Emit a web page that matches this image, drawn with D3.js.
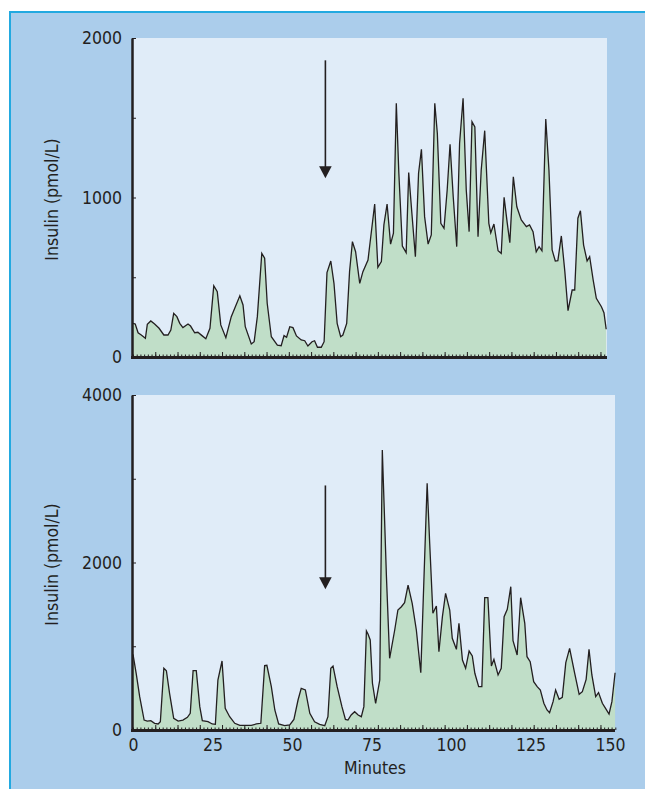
<!DOCTYPE html>
<meta charset="utf-8">
<style>
  body { margin: 0; background: #fff; }
  text { font-family: "DejaVu Sans Condensed", "Liberation Sans Narrow", "DejaVu Sans", sans-serif; fill: #231f20; }
</style>
<script src="https://d3js.org/d3.v7.min.js"></script>

<div id="chart"></div>

<script>

// ---- data (minutes, insulin pmol/L) ----
var topMinutes = [0, 0.7, 1.6, 2.6, 3.9, 4.5, 5.6, 6.8, 8.2, 9.7, 11.0, 11.9, 12.8, 13.8, 14.7, 15.7, 17.3, 18.1, 19.4, 20.4,
  21.7, 22.9, 24.2, 25.4, 26.5, 27.6, 29.2, 30.9, 33.6, 34.6, 35.3, 37.2, 38.1, 39.1, 40.5, 41.4, 42.2, 43.5, 45.4, 46.6,
  47.5, 48.3, 49.3, 50.3, 51.4, 52.9, 54.0, 55.0, 56.3, 57.1, 58.0, 59.2, 60.1, 61.0, 62.2, 63.2, 64.2, 65.3, 66.0, 67.2,
  68.1, 69.0, 70.0, 71.3, 72.3, 73.9, 76.0, 77.0, 78.1, 78.9, 79.9, 81.0, 81.9, 82.8, 83.6, 84.7, 85.9, 86.7, 87.7, 88.8,
  89.8, 90.7, 91.7, 92.8, 93.8, 94.9, 95.7, 96.8, 97.8, 98.8, 99.7, 100.7, 101.8, 102.7, 103.8, 104.8, 105.7, 106.6, 107.5, 108.5,
  109.5, 110.6, 111.9, 112.5, 113.5, 114.8, 115.8, 116.7, 117.7, 118.5, 119.6, 120.7, 122.1, 123.7, 124.7, 125.8, 126.8, 127.7, 128.6, 129.8,
  130.8, 131.8, 132.8, 133.6, 134.7, 135.8, 136.8, 138.1, 138.9, 139.9, 140.7, 141.7, 142.8, 143.6, 144.7, 145.7, 147.3, 148.1, 148.8]
var topInsulin = [211, 207, 152, 138, 117, 205, 226, 207, 180, 138, 138, 169, 274, 253, 211, 184, 207, 194, 152, 155,
  134, 115, 180, 447, 410, 201, 121, 253, 384, 326, 190, 82, 96, 253, 650, 619, 337, 127, 75, 71,
  134, 124, 190, 184, 132, 107, 102, 69, 96, 102, 61, 61, 96, 529, 602, 462, 211, 127, 138, 211,
  535, 723, 660, 462, 535, 608, 959, 562, 598, 828, 959, 708, 776, 1591, 1152, 696, 654, 1156, 901, 629,
  1152, 1302, 880, 708, 765, 1591, 1403, 838, 807, 1047, 1334, 1005, 692, 1340, 1622, 1047, 786, 1475, 1443, 754,
  1172, 1419, 838, 779, 834, 666, 650, 1001, 838, 717, 1130, 942, 859, 817, 828, 786, 660, 692, 666, 1492,
  1172, 671, 602, 604, 759, 535, 290, 420, 420, 870, 917, 702, 602, 629, 483, 368, 315, 278, 174]

var bottomMinutes = [0, 1.0, 2.1, 3.5, 4.5, 5.6, 6.8, 7.9, 8.6, 9.7, 10.5, 11.5, 12.8, 14.2, 15.7, 17.1, 18.0, 18.9, 19.9, 21.0,
  21.8, 23.6, 24.9, 25.9, 26.7, 28.0, 29.0, 30.4, 32.0, 33.6, 37.2, 38.8, 40.2, 41.4, 42.1, 43.5, 44.6, 45.8, 47.7, 49.3,
  50.6, 51.9, 52.9, 54.2, 55.6, 57.1, 58.7, 60.3, 61.3, 62.2, 62.9, 64.2, 65.7, 66.8, 67.6, 68.6, 69.7, 70.8, 71.8, 72.6,
  73.4, 73.9, 74.6, 75.3, 76.3, 77.6, 78.4, 79.7, 80.7, 82.3, 83.3, 84.4, 85.4, 86.5, 87.8, 89.1, 90.5, 92.5, 93.3, 94.3,
  95.4, 96.2, 97.3, 98.3, 99.6, 100.4, 101.7, 102.5, 103.6, 104.6, 105.7, 106.7, 107.5, 108.7, 109.7, 110.6, 111.6, 112.7, 113.5, 114.8,
  115.8, 116.7, 117.7, 118.8, 119.5, 120.8, 121.9, 123.2, 123.9, 124.9, 126.0, 127.1, 128.1, 129.2, 130.2, 131.0, 132.1, 132.9, 134.0, 135.0,
  136.1, 137.3, 138.9, 140.3, 141.3, 142.5, 143.4, 144.3, 145.5, 146.4, 147.6, 148.6, 149.7, 150.6, 151.6]
var bottomInsulin = [904, 677, 398, 119, 107, 111, 80, 72, 99, 737, 708, 438, 140, 107, 119, 152, 199, 708, 708, 279,
  111, 99, 72, 68, 597, 824, 259, 159, 80, 56, 56, 72, 80, 768, 772, 517, 239, 72, 52, 60,
  127, 358, 498, 478, 199, 99, 68, 52, 159, 737, 764, 517, 279, 127, 119, 179, 219, 179, 159, 279,
  1182, 1146, 1075, 558, 319, 597, 3343, 1831, 856, 1194, 1433, 1472, 1520, 1731, 1513, 1194, 684, 2946, 2229, 1393,
  1481, 935, 1353, 1632, 1433, 1095, 963, 1274, 836, 737, 943, 884, 677, 517, 517, 1580, 1580, 764, 844, 657,
  737, 1353, 1441, 1711, 1066, 896, 1580, 1274, 875, 816, 577, 517, 478, 319, 239, 207, 338, 478, 367, 390,
  804, 975, 677, 426, 458, 605, 963, 657, 398, 446, 319, 259, 191, 338, 684]

var xTickLabels = [0, 25, 50, 75, 100, 125, 150]
var topYTicks = [0, 500, 1000, 1500, 2000]
var topYLabels = [0, 1000, 2000]
var bottomYTicks = [0, 1000, 2000, 3000, 4000]
var bottomYLabels = [0, 2000, 4000]

// arrow: time of the intervention, and the value range the arrow spans
var arrowMinute = 60.5
var topArrow = [1860, 1120]
var bottomArrow = [2920, 1680]

// ---- layout ----
var width = 645,
  height = 789,
  outerColor = "#abcdeb",
  frameColor = "#22a9e0",
  plotColor = "#e0ecf8",
  fillColor = "#c0dec8",
  lineColor = "#231f20";

var svg = d3.select("#chart")
  .append("svg")
    .attr("width", width)
    .attr("height", height)

svg.append("rect")
  .attr("x", 10).attr("y", 12)
  .attr("width", width - 10).attr("height", height - 12)
  .style("fill", outerColor)
svg.append("line")
  .attr("x1", 9).attr("x2", width).attr("y1", 12).attr("y2", 12)
  .style("stroke", frameColor).style("stroke-width", 2)
svg.append("line")
  .attr("x1", 10).attr("x2", 10).attr("y1", 11).attr("y2", height)
  .style("stroke", frameColor).style("stroke-width", 2)

var x = d3.scaleLinear().domain([0, 150]).range([133, 610])

function drawPanel(p) {
  var y = d3.scaleLinear().domain([0, p.yMax]).range([p.bottom, p.top])
  var g = svg.append("g")

  g.append("rect")
    .attr("x", 133).attr("y", p.top)
    .attr("width", p.right - 133).attr("height", p.bottom - p.top)
    .style("fill", plotColor)

  var pts = p.minutes.map(function(m, i){ return [m, p.values[i]] })

  var area = d3.area()
    .x(function(d){ return x(d[0]) })
    .y0(y(0))
    .y1(function(d){ return y(d[1]) })
  var line = d3.line()
    .x(function(d){ return x(d[0]) })
    .y(function(d){ return y(d[1]) })

  g.append("path")
    .attr("d", area(pts))
    .style("fill", fillColor)
  g.append("path")
    .attr("d", line(pts))
    .style("fill", "none")
    .style("stroke", lineColor)
    .style("stroke-width", 1.3)
    .style("stroke-linejoin", "miter")

  // y axis, ticks pointing inwards
  var yAxis = g.append("g")
    .attr("transform", "translate(132,0)")
    .call(d3.axisLeft(y)
      .tickValues(p.yTicks)
      .tickSizeInner(-4)
      .tickSizeOuter(0)
      .tickPadding(10)
      .tickFormat(function(d){ return p.yLabels.indexOf(d) >= 0 ? d : "" }))
  yAxis.select(".domain").style("stroke", lineColor).style("stroke-width", 2.5)
  yAxis.selectAll(".tick line").style("stroke", lineColor).style("stroke-width", 2)
  yAxis.selectAll("text").style("font-size", "17.5px").style("fill", "#231f20")

  // x axis: minor and major ticks pointing up
  var minor = g.append("g")
    .attr("transform", "translate(0," + y(0) + ")")
    .call(d3.axisBottom(x).tickValues(d3.range(0, p.xMax, 7 / 6)).tickSizeInner(-2.5).tickSizeOuter(0).tickFormat(""))
  var major = g.append("g")
    .attr("transform", "translate(0," + y(0) + ")")
    .call(d3.axisBottom(x).tickValues(d3.range(7, p.xMax, 7)).tickSizeInner(-5).tickSizeOuter(0).tickFormat(""))
  g.selectAll(".domain").filter(function(){ return this.parentNode !== yAxis.node() }).remove()
  g.selectAll(".tick line").style("stroke", lineColor).style("stroke-width", 1)

  g.append("line")
    .attr("x1", 131).attr("x2", p.right)
    .attr("y1", y(0) + 0.5).attr("y2", y(0) + 0.5)
    .style("stroke", lineColor).style("stroke-width", 3)

  if (p.labels) {
    var lab = g.append("g")
      .attr("transform", "translate(0," + y(0) + ")")
      .call(d3.axisBottom(x).tickValues(xTickLabels).tickSize(0).tickPadding(9))
    lab.select(".domain").remove()
    lab.selectAll("text").style("font-size", "17.5px").style("fill", "#231f20")

    g.append("text")
      .attr("x", 375).attr("y", y(0) + 44)
      .attr("text-anchor", "middle")
      .style("font-size", "17.5px")
      .text("Minutes")
  }

  g.append("text")
    .attr("transform", "translate(52," + ((p.top + p.bottom) / 2 + 2) + ") rotate(-90)")
    .attr("text-anchor", "middle")
    .attr("dominant-baseline", "central")
    .style("font-size", "17.5px")
    .text("Insulin (pmol/L)")

  // arrow
  var ax = x(arrowMinute), ay0 = y(p.arrow[0]), ay1 = y(p.arrow[1])
  g.append("line")
    .attr("x1", ax).attr("x2", ax).attr("y1", ay0).attr("y2", ay1 - 10)
    .style("stroke", lineColor).style("stroke-width", 1.6)
  g.append("path")
    .attr("d", "M" + (ax - 6.3) + "," + (ay1 - 12) + "L" + (ax + 6.3) + "," + (ay1 - 12) + "L" + ax + "," + ay1 + "Z")
    .style("fill", lineColor)
}

drawPanel({top: 38, bottom: 357, right: 607, yMax: 2000, xMax: 149,
  minutes: topMinutes, values: topInsulin, yTicks: topYTicks, yLabels: topYLabels,
  arrow: topArrow, labels: false})

drawPanel({top: 395, bottom: 730, right: 615, yMax: 4000, xMax: 152,
  minutes: bottomMinutes, values: bottomInsulin, yTicks: bottomYTicks, yLabels: bottomYLabels,
  arrow: bottomArrow, labels: true})

</script>
